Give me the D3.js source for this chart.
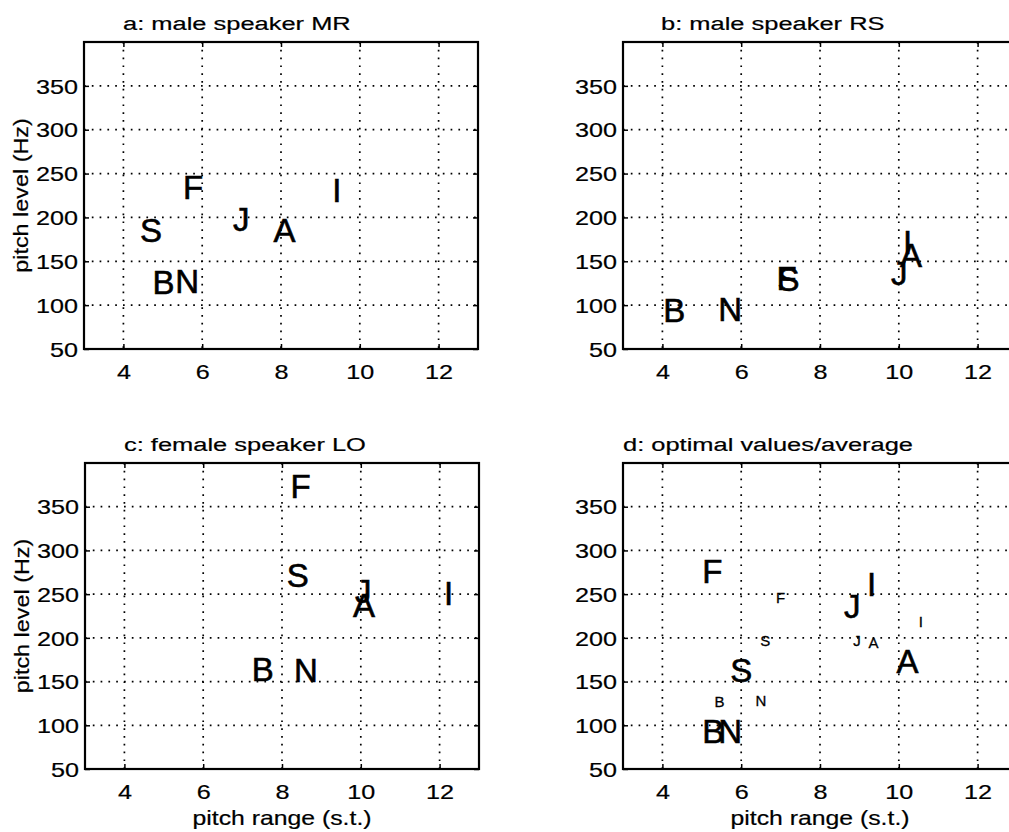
<!DOCTYPE html>
<html>
<head>
<meta charset="utf-8">
<script src="https://cdn.jsdelivr.net/npm/d3@7"></script>
<style>
  html, body { margin: 0; padding: 0; background: #fff; }
  svg { display: block; }
  text { font-family: "Liberation Sans", Arial, Helvetica, sans-serif; fill: #000; stroke: #000; stroke-width: 0.2px; }
  text.marker { stroke-width: 0.6px; }
  text.marker.small { stroke-width: 0.3px; }
</style>
</head>
<body>
<svg id="chart" width="1009" height="832"></svg>
<script>
// Vowel/utterance letters plotted as text markers
const letters = ["F", "I", "S", "J", "A", "B", "N"];

// a: male speaker MR
const rangeMR = [5.77, 9.42, 4.70, 6.99, 8.09, 5.02, 5.62];
const levelMR = [234, 231, 186, 198, 186, 126, 127];
// b: male speaker RS
const rangeRS = [7.15, 10.22, 7.20, 10.01, 10.31, 4.30, 5.72];
const levelRS = [131, 172, 130, 136, 157, 94, 96];
// c: female speaker LO
const rangeLO = [8.47, 12.23, 8.40, 10.06, 10.08, 7.51, 8.61];
const levelLO = [373, 251, 272, 253, 238, 164, 163];
// d: optimal values (large letters) and average (small letters)
const rangeOpt = [5.27, 9.31, 6.00, 8.82, 10.22, 5.29, 5.72];
const levelOpt = [276, 262, 163, 236, 173, 93, 93];
const rangeAvg = [7.00, 10.56, 6.61, 8.94, 9.36, 5.45, 6.50];
const levelAvg = [246, 219, 197, 197, 195, 127, 128];

const xTicks = [4, 6, 8, 10, 12];
const yTicks = [50, 100, 150, 200, 250, 300, 350];
const xDomain = [3, 13];
const yDomain = [50, 400];

const titles = ["a: male speaker MR", "b: male speaker RS", "c: female speaker LO", "d: optimal values/average"];
const xLabel = "pitch range (s.t.)";
const yLabel = "pitch level (Hz)";

const svg = d3.select("#chart");

const panels = [
  { title: titles[0], left: 84,  top: 42,  w: 394, h: 307, titleX: 123, yLab: true,  xLab: false,
    sets: [{ r: rangeMR, l: levelMR, size: 33, cls: "marker" }] },
  { title: titles[1], left: 623, top: 42,  w: 394, h: 307, titleX: 661, yLab: false, xLab: false,
    sets: [{ r: rangeRS, l: levelRS, size: 33, cls: "marker" }] },
  { title: titles[2], left: 85,  top: 463, w: 394, h: 306, titleX: 124, yLab: true,  xLab: true,
    sets: [{ r: rangeLO, l: levelLO, size: 33, cls: "marker" }] },
  { title: titles[3], left: 623, top: 463, w: 394, h: 306, titleX: 623, yLab: false, xLab: true,
    sets: [{ r: rangeOpt, l: levelOpt, size: 33, cls: "marker" },
           { r: rangeAvg, l: levelAvg, size: 15, cls: "marker small" }] }
];

const SX = 1.26; // horizontal stretch of the tick lettering

panels.forEach(p => {
  const x = d3.scaleLinear().domain(xDomain).range([p.left, p.left + p.w]);
  const y = d3.scaleLinear().domain(yDomain).range([p.top + p.h, p.top]);
  const g = svg.append("g");

  // dotted grid
  g.selectAll(".gx").data(xTicks).join("line")
    .attr("x1", d => x(d)).attr("x2", d => x(d))
    .attr("y1", p.top).attr("y2", p.top + p.h)
    .attr("stroke", "#000").attr("stroke-width", 1.7)
    .attr("stroke-dasharray", "1.7,6.1");
  g.selectAll(".gy").data(yTicks.filter(v => v > yDomain[0])).join("line")
    .attr("x1", p.left).attr("x2", p.left + p.w)
    .attr("y1", d => y(d)).attr("y2", d => y(d))
    .attr("stroke", "#000").attr("stroke-width", 1.7)
    .attr("stroke-dasharray", "1.7,6.1");

  // axes (ticks pointing inward)
  g.append("g").attr("transform", `translate(0,${p.top + p.h})`)
    .call(d3.axisBottom(x).tickValues(xTicks).tickSizeInner(-5).tickSizeOuter(0).tickPadding(11))
    .call(a => a.select(".domain").remove())
    .call(a => a.selectAll("line").attr("stroke-width", 1.5))
    .call(a => a.selectAll("text").attr("font-size", 20)
      .attr("font-family", "Liberation Sans, Arial, sans-serif")
      .attr("transform", `scale(${SX},1)`)
      .attr("x", 0).attr("dy", "0.95em"));
  g.append("g").attr("transform", `translate(0,${p.top})`)
    .call(d3.axisTop(x).tickValues(xTicks).tickSizeInner(-5).tickSizeOuter(0).tickFormat(""))
    .call(a => a.select(".domain").remove())
    .call(a => a.selectAll("line").attr("stroke-width", 1.5));
  g.append("g").attr("transform", `translate(${p.left},0)`)
    .call(d3.axisLeft(y).tickValues(yTicks).tickSizeInner(-5).tickSizeOuter(0).tickPadding(10))
    .call(a => a.select(".domain").remove())
    .call(a => a.selectAll("line").attr("stroke-width", 1.5))
    .call(a => a.selectAll("text").attr("font-size", 20)
      .attr("font-family", "Liberation Sans, Arial, sans-serif")
      .attr("transform", `scale(${SX},1)`)
      .attr("x", -6 / SX).attr("dy", "0.36em"));
  g.append("g").attr("transform", `translate(${p.left + p.w},0)`)
    .call(d3.axisRight(y).tickValues(yTicks).tickSizeInner(-5).tickSizeOuter(0).tickFormat(""))
    .call(a => a.select(".domain").remove())
    .call(a => a.selectAll("line").attr("stroke-width", 1.5));

  // frame
  g.append("rect")
    .attr("x", p.left).attr("y", p.top).attr("width", p.w).attr("height", p.h)
    .attr("fill", "none").attr("stroke", "#000").attr("stroke-width", 2.2);

  // title
  g.append("text")
    .attr("transform", `translate(${p.titleX},${p.top - 12}) scale(1.34,1)`)
    .attr("font-size", 19).text(p.title);

  if (p.yLab) {
    g.append("text")
      .attr("transform", `translate(${p.left - 56},${p.top + p.h / 2}) rotate(-90) scale(1.2,1)`)
      .attr("text-anchor", "middle").attr("font-size", 19.5).text(yLabel);
  }
  if (p.xLab) {
    g.append("text")
      .attr("transform", `translate(${p.left + p.w / 2},${p.top + p.h + 56}) scale(1.24,1)`)
      .attr("text-anchor", "middle").attr("font-size", 20).text(xLabel);
  }

  // letter markers
  p.sets.forEach(s => {
    g.selectAll(null).data(letters.map((t, i) => ({ t, r: s.r[i], l: s.l[i] })))
      .join("text")
      .attr("class", s.cls)
      .attr("x", d => x(d.r)).attr("y", d => y(d.l))
      .attr("text-anchor", "middle").attr("dy", "0.36em")
      .attr("font-size", s.size).text(d => d.t);
  });
});
</script>
</body>
</html>
